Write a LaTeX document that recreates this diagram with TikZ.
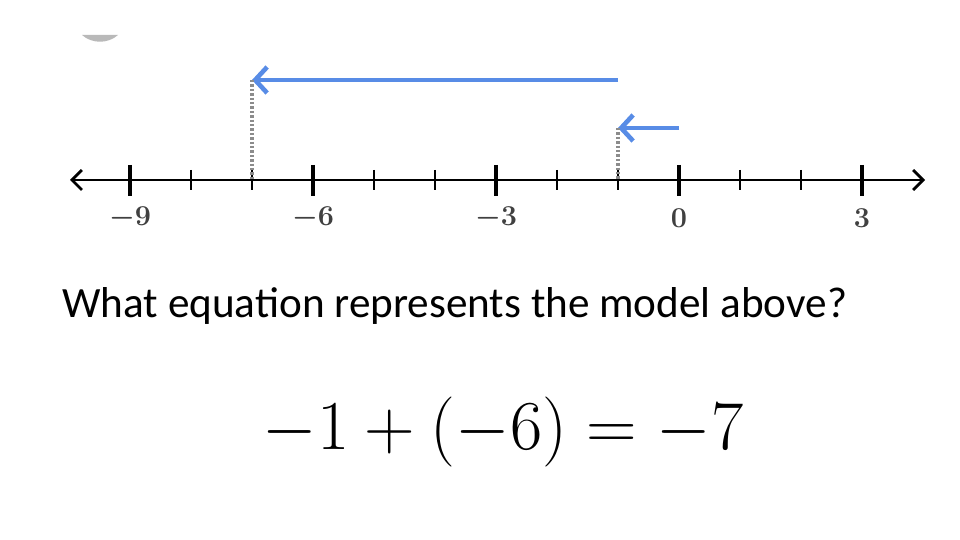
\documentclass[tikz,border=0pt]{standalone}
\usepackage[no-math]{fontspec}
\setmainfont{Carlito}
\usepackage{amsmath}
\usetikzlibrary{arrows.meta}
\definecolor{moveblue}{RGB}{88,140,230}

\begin{document}
\begin{tikzpicture}[x=0.5pt,y=-0.5pt]
  \useasboundingbox (0,0) rectangle (960,540);
  \def\u{61}   % one unit
  \def\z{679}  % position of 0
  \def\yl{180} % height of the line

  % leftover mark at the top
  \fill[gray!55] (82,35) .. controls (92,44) and (108,44) .. (118,35) -- cycle;

  % number line
  \coordinate (L) at (70,\yl);
  \coordinate (R) at (925,\yl);
  \draw[line width=1.4pt, {Straight Barb[length=5pt,width=10pt]}-{Straight Barb[length=5pt,width=10pt]}] (L) -- (R);
  \foreach \k in {-9,...,3} {
    \draw[line width=0.6pt] (\z+\k*\u,170) -- (\z+\k*\u,190);
  }
  \foreach \k in {-9,-6,-3,0,3} {
    \draw[line width=2pt] (\z+\k*\u,165) -- (\z+\k*\u,196);
    \node[font=\Large\boldmath, text=black!75] (lab\k) at (\z+\k*\u,218) {$\k$};
  }

  % the two moves
  \coordinate (s0) at (\z,128);
  \coordinate (s1) at (\z-\u,128);
  \coordinate (t1) at (\z-\u,80);
  \coordinate (t7) at (\z-7*\u,80);
  \draw[moveblue, line width=2.3pt, -{Straight Barb[length=6pt,width=13pt]}] (s0) -- (s1);
  \draw[moveblue, line width=2.3pt, -{Straight Barb[length=6pt,width=13pt]}] (t1) -- (t7);
  \draw[gray!90, line width=1.6pt, dash pattern=on 1.2pt off 1pt] (s1) -- (\z-\u,\yl);
  \draw[gray!90, line width=1.6pt, dash pattern=on 1.2pt off 1pt] (t7) -- (\z-7*\u,\yl);

  % question and answer
  \node[anchor=base west, font=\fontsize{21.6}{26}\selectfont, inner sep=0pt] (ask) at (62,318) {What equation represents the model above?};
  \node[font=\huge, inner sep=0pt] (eq) at (503,432) {\scalebox{1.69}{$-1+(-6)=-7$}};
\end{tikzpicture}
\end{document}
